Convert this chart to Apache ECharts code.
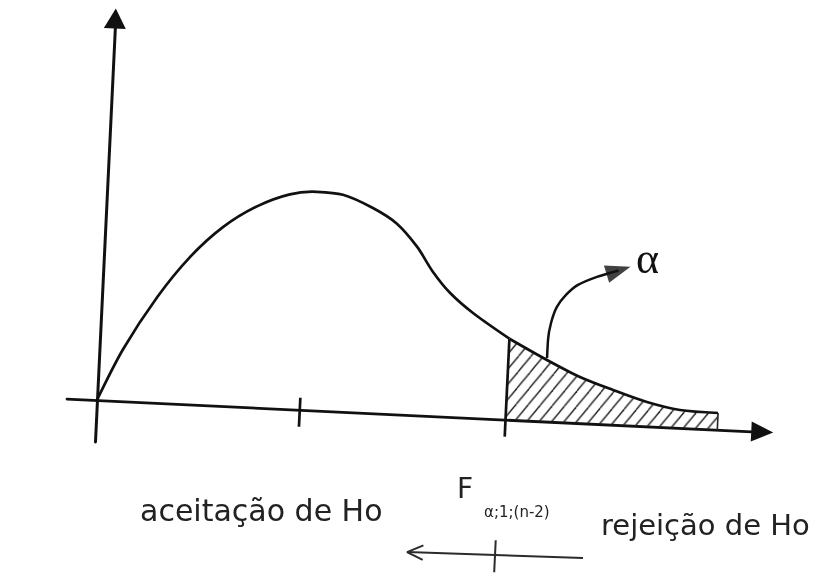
<!DOCTYPE html>
<html>
<head>
<meta charset="utf-8">
<script src="https://cdn.jsdelivr.net/npm/echarts@6/dist/echarts.min.js"></script>
<style>
  html, body { margin: 0; padding: 0; background: #fff; }
  #plot, #labels { position: absolute; left: 0; top: 0; width: 838px; height: 578px; }
  /* the hand-drawn sketch sits slightly tilted on the page */
  #plot { transform-origin: 97px 400px; transform: rotate(2.75deg); }
  #labels { pointer-events: none; }
</style>
</head>
<body>
<div id="plot"></div>
<div id="labels"></div>
<script>
// F density sketch: body of the curve (x, height), drawing units
const curveX = [0, 23.6, 55.3, 86, 117.5, 150.5, 182.8, 209.6, 235.8, 266.4, 291.1, 312.3, 329.5, 347.4, 371.4, 409];
const curveY = [0, 51.9, 105.8, 147.2, 178.7, 201.1, 214.7, 218.5, 216.8, 205, 190.5, 168.5, 144, 124, 104.9, 81];

// right tail beyond the critical value (shaded rejection region)
const tailX = [409, 447.5, 481.3, 514.9, 549.4, 582.8, 620.9];
const tailY = [81, 61.6, 46.2, 34.8, 24.4, 18, 16.8];

// tick marks on the horizontal axis: mean and critical value F
const meanTick = [[203, 12], [203, -17]];
const criticalLine = [[409, 81], [409, -17]];
const tailEdge = [[621, 16.8], [621, -1]];

// curved pointer from the tail area to the alpha label
const alphaPathX = [447.5, 447.6, 449.8, 454.9, 463.4, 474.9, 493.5, 514.7];
const alphaPathY = [63.5, 81.5, 98.7, 115, 127.4, 138, 146.9, 154.4];
const alphaHead = [514.7, 154.4];

// direction arrow under the axis, crossing at the critical value
const dirShaft = [[317, -137], [493, -134.5]];
const dirHead = [[333, -129.5], [317, -137], [333, -144]];
const dirTick = [[405, -121], [405, -153]];

// texts
const acceptText = 'aceitação de Ho';
const rejectText = 'rejeição de Ho';
const critText = 'F';
const critSubText = 'α;1;(n-2)';
const alphaText = 'α';

const INK = '#111111';
const SMOOTH = 0.3;

function zip(xs, ys) { return xs.map((x, i) => [x, ys[i]]); }

function hatchPattern() {
  const w = 12, h = 16;
  const c = document.createElement('canvas');
  c.width = w; c.height = h;
  const g = c.getContext('2d');
  g.strokeStyle = '#222222';
  g.lineWidth = 1.4;
  for (const off of [-w, 0, w]) {
    g.beginPath();
    g.moveTo(off, h);
    g.lineTo(off + w, 0);
    g.stroke();
  }
  return { image: c, repeat: 'repeat' };
}

function segment(data, width, color) {
  return {
    type: 'line', data: data, symbol: 'none', clip: false, silent: true,
    lineStyle: { color: color || INK, width: width || 2.7 }, z: 4
  };
}

// vector output keeps the tilted strokes crisp
const plot = echarts.init(document.getElementById('plot'), null, { renderer: 'svg' });
plot.setOption({
  animation: false,
  grid: { left: 67, top: 18, width: 696, height: 424 },
  xAxis: {
    type: 'value', min: -30, max: 666,
    axisLine: { onZero: true, symbol: ['none', 'triangle'], symbolSize: [20, 22],
      lineStyle: { color: INK, width: 2.8 } },
    axisTick: { show: false }, axisLabel: { show: false }, splitLine: { show: false }
  },
  yAxis: {
    type: 'value', min: -42, max: 382,
    axisLine: { onZero: true, symbol: ['none', 'triangle'], symbolSize: [22, 20],
      lineStyle: { color: INK, width: 3 } },
    axisTick: { show: false }, axisLabel: { show: false }, splitLine: { show: false }
  },
  series: [
    {
      type: 'line', data: zip(curveX, curveY), smooth: SMOOTH, symbol: 'none',
      lineStyle: { color: INK, width: 2.7 }, z: 5
    },
    {
      type: 'line', data: zip(tailX, tailY), smooth: SMOOTH, symbol: 'none',
      lineStyle: { color: INK, width: 2.7 },
      areaStyle: { color: hatchPattern(), opacity: 1 }, z: 3
    },
    segment(meanTick, 2.7),
    segment(criticalLine, 2.7),
    segment(tailEdge, 1.6, '#222222'),
    {
      type: 'line', data: zip(alphaPathX, alphaPathY), smooth: SMOOTH, symbol: 'none',
      clip: false, lineStyle: { color: INK, width: 2.5 }, z: 4
    },
    {
      type: 'scatter', data: [alphaHead], symbol: 'triangle', symbolSize: [18, 25],
      symbolRotate: -70.5, clip: false, itemStyle: { color: INK }, z: 5
    },
    segment(dirShaft, 2, '#2b2b2b'),
    segment(dirHead, 2, '#2b2b2b'),
    segment(dirTick, 2, '#2b2b2b')
  ]
});

const labels = echarts.init(document.getElementById('labels'), null, { renderer: 'canvas' });
const TEXT = '#222222';
labels.setOption({
  animation: false,
  graphic: [
    { type: 'text', x: 140, y: 513, style: { text: acceptText, font: '30px "DejaVu Sans"', fill: TEXT, align: 'left', verticalAlign: 'middle' } },
    { type: 'text', x: 601, y: 527, style: { text: rejectText, font: '29px "DejaVu Sans"', fill: TEXT, align: 'left', verticalAlign: 'middle' } },
    { type: 'text', x: 457, y: 491, style: { text: critText, font: '28px "DejaVu Sans"', fill: TEXT, align: 'left', verticalAlign: 'middle' } },
    { type: 'text', x: 484, y: 513, style: { text: critSubText, font: '15px "DejaVu Sans"', fill: TEXT, align: 'left', verticalAlign: 'middle' } },
    { type: 'text', x: 636, y: 261, style: { text: alphaText, font: '44px "Liberation Serif"', fill: INK, align: 'left', verticalAlign: 'middle' } }
  ]
});
</script>
</body>
</html>
